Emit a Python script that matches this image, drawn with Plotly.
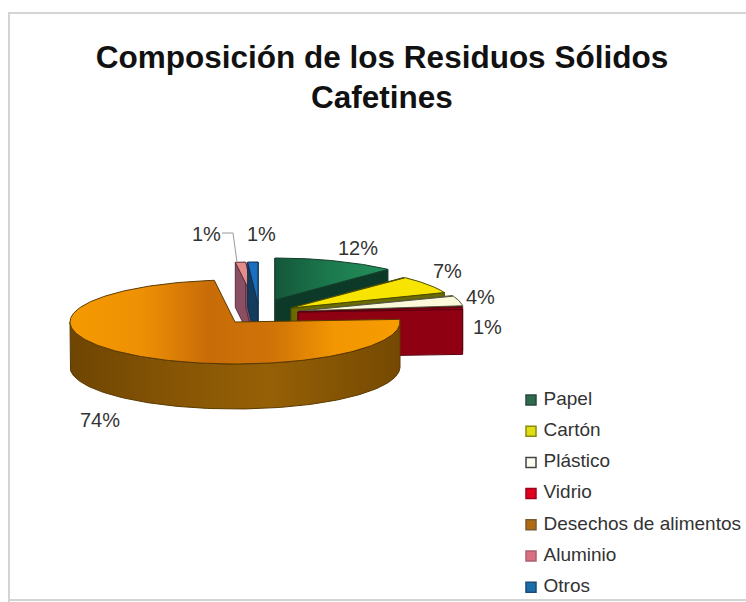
import numpy as np
import plotly.graph_objects as go

# ---- data ----
categories = ["Papel", "Cartón", "Plástico", "Vidrio", "Desechos de alimentos", "Aluminio", "Otros"]
shares = [12, 7, 4, 1, 74, 1, 1]

# ---- style ----
top_colors = ["#1f7f52", "#f7e400", "#fbf8dc", "#a00012", "#f59a00", "#e58d88", "#1a6fc0"]
wall_colors = ["#0d3a28", "#6a6a00", "#8a8a60", "#8e0012", "#8a5604", "#8a4f62", "#143c5c"]
edge_colors = ["#123c2a", "#4a4a00", "#55553a", "#5a0010", "#5a3a00", "#5a3040", "#103050"]
legend_colors = ["#2f6b4f", "#dede10", "#fdfdf0", "#e0001a", "#b06a10", "#d96f80", "#1a6fa8"]
legend_edges = ["#2a4a3a", "#8a8a10", "#444444", "#a00020", "#7a5a30", "#b06070", "#1a4a78"]
offset_x = [40, 56, 64, 63, 0, 21, 23]     # exploded slice offsets (px)
offset_y = [-22, -14, -11, -10, 0, -18, -18]
label_x = [358, 447, 480, 487, 100, 206, 261]
label_y = [248, 271, 297, 327, 420, 234, 234]

CX, CY, RX, RY, DEPTH = 235, 322, 165, 42, 45
W, H = 746, 602
TEXT = "#333333"
FONT = "Liberation Sans"

fig = go.Figure()


def poly(xs, ys, fill, line, gradient=None):
    kw = dict(x=list(xs) + [xs[0]], y=list(ys) + [ys[0]], mode="lines", fill="toself",
              line=dict(color=line, width=1), hoverinfo="skip", showlegend=False)
    if gradient:
        kw["fillgradient"] = gradient
    else:
        kw["fillcolor"] = fill
    fig.add_trace(go.Scatter(**kw))


def grad(stops):
    return dict(type="horizontal", colorscale=stops)


fractions = np.cumsum([0] + shares) / sum(shares) * 360.0
draw_order = [5, 6, 0, 1, 2, 3, 4]

for i in draw_order:
    t0, t1 = np.radians(fractions[i]), np.radians(fractions[i + 1])
    cx, cy = CX + offset_x[i], CY + offset_y[i]
    px = lambda t: cx + RX * np.sin(t)
    py = lambda t: cy - RY * np.cos(t)
    # radial side walls
    for t in (t0, t1):
        if i == 4:
            continue
        poly([cx, px(t), px(t), cx], [cy, py(t), py(t) + DEPTH, cy + DEPTH],
             wall_colors[i], edge_colors[i])
    # outer wall (front-facing part of the rim)
    a, b = max(t0, np.pi / 2), min(t1, 3 * np.pi / 2)
    if b > a:
        t = np.linspace(a, b, 160)
        g = None
        if i == 4:
            g = grad([[0, "#6e4502"], [0.3, "#855405"], [0.6, "#966006"], [1, "#754903"]])
        poly(np.r_[px(t), px(t[::-1])], np.r_[py(t), py(t[::-1]) + DEPTH],
             wall_colors[i], edge_colors[i], g)
    # top surface
    t = np.linspace(t0, t1, 240)
    g = None
    if i == 4:
        g = grad([[0, "#f59a00"], [0.22, "#ee9004"], [0.42, "#c86c08"], [0.62, "#d07408"], [0.8, "#f29602"], [1, "#f79c00"]])
    if i == 0:
        g = grad([[0, "#14573a"], [0.5, "#1c7a4e"], [1, "#23905c"]])
    poly(np.r_[cx, px(t)], np.r_[cy, py(t)], top_colors[i], edge_colors[i], g)

# leader line of the left 1 % label
fig.add_shape(type="path", path="M 222 233 L 233 233 L 237 262", line=dict(color="#999999", width=1))

# slice labels
for lx, ly, v in zip(label_x, label_y, shares):
    fig.add_annotation(x=lx, y=ly, text=f"{v}%", showarrow=False,
                       font=dict(family=FONT, size=20, color=TEXT))

# legend
leg_y = [400 + 31.2 * k for k in range(len(categories))]
fig.add_trace(go.Scatter(
    x=[531] * len(categories), y=leg_y, mode="markers+text", text=["\u00a0" + c for c in categories],
    textposition="middle right", cliponaxis=False, hoverinfo="skip", showlegend=False,
    textfont=dict(family=FONT, size=19, color=TEXT),
    marker=dict(symbol="square", size=10, color=legend_colors, line=dict(color=legend_edges, width=1.5)),
))

# chart frame
for x0, y0, x1, y1 in [(8, 13, 746, 13), (9, 13, 9, 602), (9, 600, 746, 600)]:
    fig.add_shape(type="line", x0=x0, y0=y0, x1=x1, y1=y1, line=dict(color="#d4d4d4", width=2))

# title
fig.update_layout(
    title=dict(text="<b>Composición de los Residuos Sólidos</b>", x=382 / W, xanchor="center",
               y=1 - 57 / H, yanchor="middle", font=dict(family=FONT, size=31.5, color="#111111")),
    annotations=list(fig.layout.annotations) + [
        dict(x=382, y=97, text="<b>Cafetines</b>", showarrow=False,
             font=dict(family=FONT, size=31.5, color="#111111"))],
    width=W, height=H, margin=dict(l=0, r=0, t=0, b=0),
    paper_bgcolor="white", plot_bgcolor="white", showlegend=False,
    xaxis=dict(range=[0, W], visible=False, fixedrange=True),
    yaxis=dict(range=[H, 0], visible=False, fixedrange=True),
)

fig.write_html("out.html", config={"displayModeBar": False},
               post_script="document.body.style.margin='0';document.documentElement.style.overflow='hidden';")
